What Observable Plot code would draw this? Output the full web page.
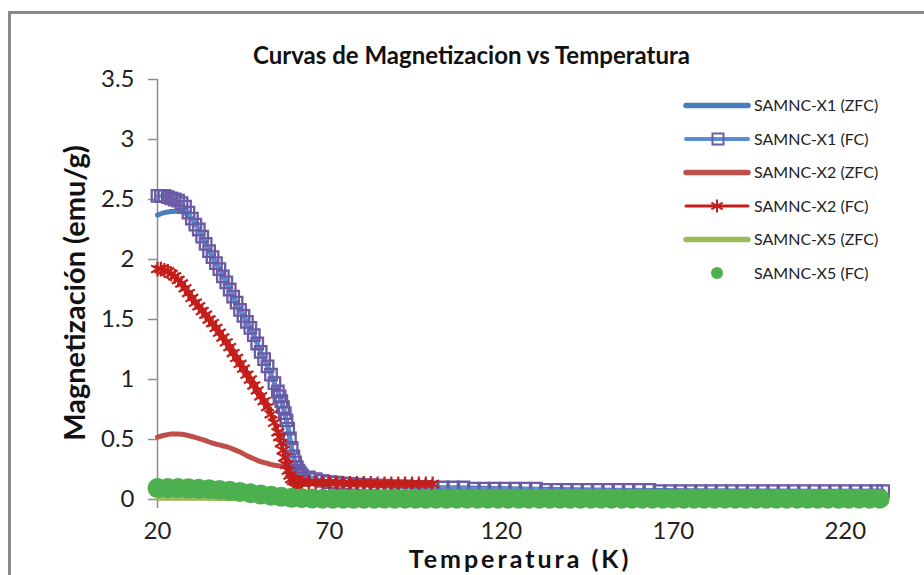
<!DOCTYPE html>
<html>
<head>
<meta charset="utf-8">
<script src="https://cdn.jsdelivr.net/npm/d3@7"></script>
<script src="https://cdn.jsdelivr.net/npm/@observablehq/plot@0.6"></script>
<style>
  html, body { margin: 0; padding: 0; background: #fff; overflow: hidden; }
  #wrap { position: relative; width: 924px; height: 575px; overflow: hidden; }
  #frame { position: absolute; left: 8px; top: 11px; width: 2000px; height: 2000px;
           border-left: 3px solid #8a8a8a; border-top: 3px solid #8a8a8a; pointer-events: none; }
  #chart { position: absolute; left: 0; top: 0; }
</style>
</head>
<body>
<div id="wrap"><div id="chart"></div><div id="frame"></div></div>
<script>
// ---- Data ----
const title = "Curvas de Magnetizacion vs Temperatura";
const xLabel = "Temperatura (K)";
const yLabel = "Magnetización (emu/g)";
const xTicks = [20, 70, 120, 170, 220];
const yTicks = [0, 0.5, 1, 1.5, 2, 2.5, 3, 3.5];
const seriesNames = ["SAMNC-X1 (ZFC)", "SAMNC-X1 (FC)", "SAMNC-X2 (ZFC)", "SAMNC-X2 (FC)", "SAMNC-X5 (ZFC)", "SAMNC-X5 (FC)"];

// SAMNC-X1 (ZFC)
const tX1zfc = [20,22,24,26,28,30,32,34,36,38,40,42,44,46,48,50,52,54,55,56,57,58,59,60,61,62,64,68,72,80,90,100,110,130,165,200,231];
const mX1zfc = [2.37,2.39,2.40,2.40,2.39,2.34,2.25,2.13,2.02,1.92,1.81,1.69,1.58,1.48,1.37,1.23,1.11,0.97,0.90,0.82,0.72,0.59,0.43,0.31,0.24,0.20,0.185,0.155,0.14,0.12,0.11,0.10,0.095,0.085,0.075,0.07,0.07];

// SAMNC-X1 (FC)
const tX1fc = [20,21,22,23,24,25,26,27,28,29,30,31,32,33,34,35,36,37,38,39,40,41,42,43,44,45,46,47,48,49,50,51,52,53,54,
  55,55.5,56,56.5,57,57.5,58,58.5,59,59.5,60,60.5,61,61.5,62,
  64,66,68,70,72,74,76,78,80,82,84,86,88,90,92,94,96,98,100,
  103,106,109,112,115,118,121,124,127,130,133,136,139,142,145,148,151,154,157,160,163,166,169,172,175,178,181,184,187,190,193,196,199,202,205,208,211,214,217,220,223,226,229,231];
const mX1fc = [2.53,2.53,2.53,2.52,2.51,2.50,2.49,2.47,2.44,2.39,2.34,2.29,2.25,2.19,2.13,2.07,2.02,1.97,1.92,1.86,1.81,1.75,1.69,1.64,1.58,1.53,1.48,1.43,1.37,1.30,1.23,1.17,1.11,1.04,0.97,
  0.90,0.86,0.82,0.77,0.72,0.66,0.59,0.51,0.43,0.36,0.31,0.27,0.24,0.22,0.20,
  0.185,0.17,0.155,0.145,0.14,0.135,0.13,0.125,0.12,0.12,0.115,0.115,0.11,0.11,0.11,0.105,0.105,0.105,0.10,
  0.10,0.10,0.10,0.09,0.09,0.09,0.09,0.09,0.09,0.09,0.08,0.08,0.08,0.08,0.08,0.08,0.08,0.08,0.08,0.08,0.08,0.07,0.07,0.07,0.07,0.07,0.07,0.07,0.07,0.07,0.07,0.07,0.07,0.07,0.07,0.07,0.07,0.07,0.07,0.07,0.07,0.07,0.07,0.07];

// SAMNC-X2 (ZFC)
const tX2zfc = [20,22,24,26,28,30,32,34,36,38,40,42,44,46,48,50,52,54,56,57,58,59,60,62,66,70,80,90,100];
const mX2zfc = [0.52,0.535,0.545,0.545,0.54,0.525,0.51,0.49,0.47,0.455,0.44,0.42,0.395,0.365,0.34,0.315,0.30,0.285,0.28,0.29,0.24,0.17,0.15,0.14,0.14,0.135,0.135,0.13,0.13];

// SAMNC-X2 (FC)
const tX2fc = [20,21,22,23,24,25,26,27,28,29,30,31,32,33,34,35,36,37,38,39,40,41,42,43,44,45,46,47,48,49,50,51,52,53,54,
  55,55.5,56,56.5,57,57.5,58,58.5,59,59.5,60,60.5,61,61.5,62,
  64,66,68,70,72,74,76,78,80,82,84,86,88,90,92,94,96,98,100];
const mX2fc = [1.92,1.92,1.91,1.90,1.88,1.86,1.83,1.80,1.76,1.72,1.68,1.64,1.61,1.57,1.54,1.50,1.47,1.43,1.39,1.35,1.31,1.27,1.22,1.18,1.13,1.09,1.04,1.00,0.95,0.91,0.86,0.82,0.77,0.71,0.64,
  0.56,0.52,0.47,0.41,0.35,0.29,0.24,0.20,0.17,0.155,0.15,0.145,0.145,0.14,0.14,
  0.14,0.14,0.14,0.14,0.14,0.135,0.135,0.135,0.135,0.135,0.13,0.13,0.13,0.13,0.13,0.13,0.13,0.13,0.13];

// SAMNC-X5 (ZFC)
const tX5zfc = [20,40,60,100,150,200,231];
const mX5zfc = [0.006,0.005,0.004,0.003,0.003,0.003,0.003];

// SAMNC-X5 (FC)
const tX5fc = [20,23,26,29,32,35,38,41,44,47,50,53,56,59,62,65,68,71,74,77,80,83,86,89,92,95,98,101,104,107,110,113,116,119,122,125,128,131,134,137,140,143,146,149,152,155,158,161,164,167,170,173,176,179,182,185,188,191,194,197,200,203,206,209,212,215,218,221,224,227,230];
const mX5fc = [0.095,0.095,0.095,0.093,0.09,0.085,0.08,0.072,0.062,0.052,0.042,0.032,0.022,0.014,0.01,0.008,
  0.007,0.007,0.007,0.007,0.007,0.007,0.007,0.007,0.007,0.007,0.007,0.007,0.007,0.007,0.007,0.007,0.007,0.007,0.007,0.007,0.007,0.007,0.007,0.007,0.007,0.007,0.007,0.007,0.007,0.007,0.007,0.007,0.007,0.007,0.007,0.007,0.007,0.007,0.007,0.007,0.007,0.007,0.007,0.007,0.007,0.007,0.007,0.007,0.007,0.007,0.007,0.007,0.007,0.007,0.007];

// ---- Build tables ----
const rows = (t, m) => t.map((T, i) => ({T, M: m[i]}));
const X1zfc = rows(tX1zfc, mX1zfc);
const X1fc = rows(tX1fc, mX1fc);
const X2zfc = rows(tX2zfc, mX2zfc);
const X2fc = rows(tX2fc, mX2fc);
const X5zfc = rows(tX5zfc, mX5zfc);
const X5fc = rows(tX5fc, mX5fc);

const C = {
  x1z: "#4a7ebb", x1f: "#5b8ed0", sq: "#6b5aa6",
  x2z: "#be4f4b", x2f: "#c41e1a",
  x5z: "#9bbb59", x5f: "#4cb04f", axis: "#8c8c8c", text: "#222"
};
const font = "Lato, 'Open Sans', sans-serif";

const plot = Plot.plot({
  width: 924, height: 575,
  marginLeft: 157, marginRight: 40, marginTop: 79, marginBottom: 76,
  style: {fontFamily: font, background: "white", overflow: "visible"},
  x: {domain: [20, 231.4]},
  y: {domain: [0, 3.5]},
  marks: [
    Plot.ruleY([0], {stroke: C.axis, strokeWidth: 1.5}),
    Plot.ruleX([20], {stroke: C.axis, strokeWidth: 1.5}),
    Plot.axisY({ticks: yTicks, tickSize: 9, tickPadding: 14, tickFormat: d => `${d}`, label: null,
      fontSize: 24, stroke: C.axis, strokeWidth: 1.5, fill: C.text}),
    Plot.axisX({ticks: xTicks, tickSize: 9, tickPadding: 13, tickFormat: d => `${d}`, label: null,
      fontSize: 24, stroke: C.axis, strokeWidth: 1.5, fill: C.text}),
    // X1
    Plot.line(X1zfc, {x: "T", y: "M", stroke: C.x1z, strokeWidth: 5, curve: "catmull-rom"}),
    Plot.line(X1fc, {x: "T", y: "M", stroke: C.x1f, strokeWidth: 3.5}),
    Plot.dot(X1fc, {x: "T", y: "M", symbol: "square", r: 6.5, stroke: C.sq, strokeWidth: 2.3, fill: "none"}),
    // X2
    Plot.line(X2zfc, {x: "T", y: "M", stroke: C.x2z, strokeWidth: 5, curve: "catmull-rom"}),
    Plot.line(X2fc, {x: "T", y: "M", stroke: C.x2f, strokeWidth: 3}),
    Plot.dot(X2fc, {x: "T", y: "M", symbol: "asterisk", r: 7, stroke: C.x2f, strokeWidth: 2.2}),
    // X5
    Plot.line(X5zfc, {x: "T", y: "M", stroke: C.x5z, strokeWidth: 4, curve: "catmull-rom"}),
    Plot.dot(X5fc, {x: "T", y: "M", r: 10, fill: C.x5f, stroke: "none"})
  ]
});
document.getElementById("chart").appendChild(plot);

// ---- Title, axis labels and legend ----
const svg = d3.select(plot);
svg.append("text").text(title)
  .attr("x", 471.5).attr("y", 64).attr("text-anchor", "middle")
  .attr("font-family", font).attr("font-weight", "bold").attr("font-size", 24).attr("fill", "#111");
svg.append("text").text(xLabel)
  .attr("x", 520).attr("y", 568).attr("text-anchor", "middle").attr("letter-spacing", 3)
  .attr("font-family", font).attr("font-weight", "bold").attr("font-size", 25).attr("fill", "#111");
svg.append("text").text(yLabel)
  .attr("transform", "translate(85,293) rotate(-90)").attr("text-anchor", "middle")
  .attr("font-family", font).attr("font-weight", "bold").attr("font-size", 29).attr("fill", "#111");

const leg = svg.append("g").attr("text-anchor", "start");
const styles = [
  {line: C.x1z, w: 5.5},
  {line: C.x1f, w: 4, sym: "square"},
  {line: C.x2z, w: 5.5},
  {line: C.x2f, w: 3, sym: "star"},
  {line: C.x5z, w: 5.5},
  {sym: "dot"}
];
seriesNames.forEach((name, i) => {
  const cy = 105.5 + 33.5 * i;
  const s = styles[i];
  if (s.line) leg.append("line").attr("x1", 686).attr("x2", 748).attr("y1", cy).attr("y2", cy)
    .attr("stroke", s.line).attr("stroke-width", s.w).attr("stroke-linecap", "round");
  if (s.sym === "square") leg.append("rect").attr("x", 712.5).attr("y", cy - 5.5).attr("width", 11).attr("height", 11)
    .attr("fill", "none").attr("stroke", C.sq).attr("stroke-width", 2);
  if (s.sym === "star") leg.append("path").attr("transform", `translate(717,${cy})`)
    .attr("d", d3.symbol(d3.symbolAsterisk, 120)()).attr("stroke", C.x2f).attr("stroke-width", 2).attr("fill", "none");
  if (s.sym === "dot") leg.append("circle").attr("cx", 717).attr("cy", cy).attr("r", 6).attr("fill", C.x5f);
  leg.append("text").text(name).attr("x", 754).attr("y", cy).attr("dy", "0.35em").attr("text-anchor", "start")
    .attr("font-family", font).attr("font-size", 16).attr("fill", C.text);
});
</script>
</body>
</html>
